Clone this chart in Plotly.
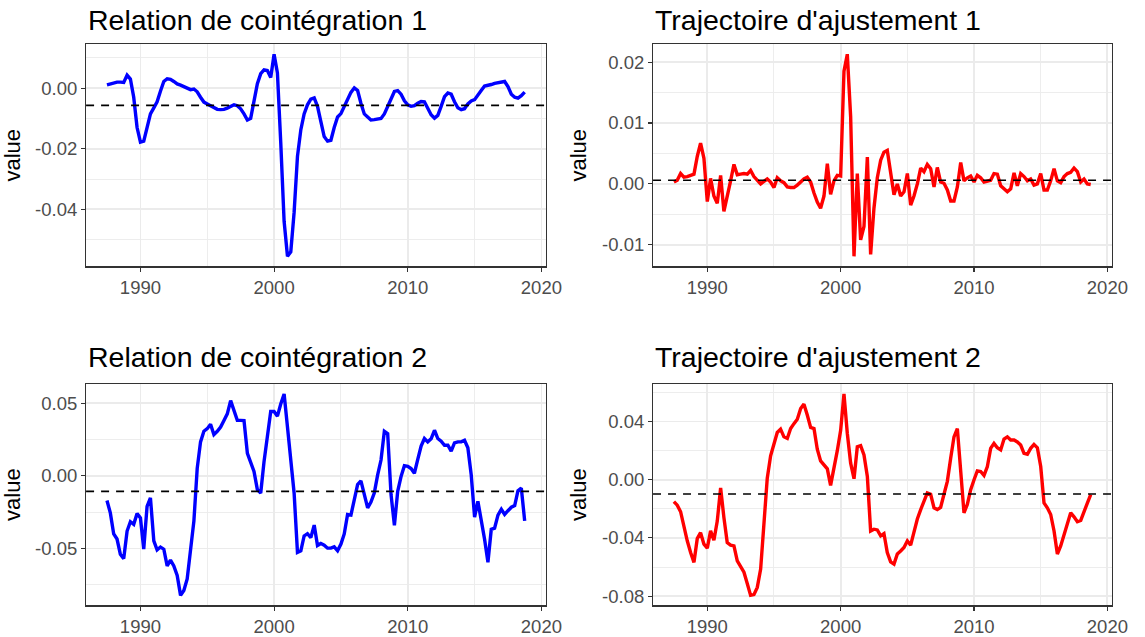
import pandas as pd
import plotly.graph_objects as go

# Quarterly dates 1987Q3 .. 2018Q4
dates = pd.date_range("1987-07-01", periods=126, freq="QS")

titles = ["Relation de cointégration 1", "Trajectoire d'ajustement 1",
          "Relation de cointégration 2", "Trajectoire d'ajustement 2"]

coint1 = [0.0011, 0.0015, 0.0019, 0.0020, 0.0020, 0.0019, 0.0043, 0.0030, -0.0030, -0.0130,
          -0.0178, -0.0175, -0.0130, -0.0085, -0.0065, -0.0045, -0.0010, 0.0022, 0.0031, 0.0029,
          0.0022, 0.0014, 0.0010, 0.0006, 0.0001, -0.0005, -0.0003, -0.0012, -0.0030, -0.0046,
          -0.0052, -0.0058, -0.0065, -0.0070, -0.0071, -0.0070, -0.0066, -0.0060, -0.0055, -0.0058,
          -0.0068, -0.0085, -0.0105, -0.0100, -0.0040, 0.0015, 0.0048, 0.0060, 0.0058, 0.0035,
          0.0112, 0.0050, -0.0180, -0.0440, -0.0555, -0.0540, -0.0410, -0.0225, -0.0137, -0.0085,
          -0.0055, -0.0036, -0.0032, -0.0060, -0.0110, -0.0160, -0.0175, -0.0172, -0.0130, -0.0095,
          -0.0084, -0.0062, -0.0038, -0.0014, 0.0001, -0.0008, -0.0050, -0.0085, -0.0095, -0.0105,
          -0.0104, -0.0102, -0.0100, -0.0085, -0.0060, -0.0030, -0.0011, -0.0008, -0.0020, -0.0042,
          -0.0055, -0.0060, -0.0058, -0.0050, -0.0044, -0.0045, -0.0065, -0.0088, -0.0099, -0.0090,
          -0.0060, -0.0028, -0.0016, -0.0020, -0.0045, -0.0065, -0.0071, -0.0068, -0.0052, -0.0042,
          -0.0038, -0.0025, -0.0008, 0.0007, 0.0009, 0.0012, 0.0016, 0.0018, 0.0022, 0.0022,
          0.0005, -0.0020, -0.0030, -0.0033, -0.0025, -0.0013]

adjust1 = [0.0003, 0.0006, 0.0017, 0.0011, 0.0012, 0.0014, 0.0016, 0.0045, 0.0067, 0.0042,
           -0.0029, 0.0009, -0.0020, -0.0032, 0.0014, -0.0045, -0.0022, 0.0005, 0.0032, 0.0015,
           0.0016, 0.0017, 0.0016, 0.0022, 0.0012, 0.0005, 0.0000, 0.0004, 0.0008, 0.0003,
           -0.0006, 0.0010, 0.0005, 0.0002, -0.0005, -0.0006, -0.0006, -0.0002, 0.0003, 0.0008,
           0.0011, 0.0003, -0.0015, -0.0030, -0.0040, -0.0020, 0.0033, -0.0017, 0.0005, 0.0014,
           0.0013, 0.0185, 0.0213, 0.0110, -0.0119, 0.0017, -0.0092, -0.0070, 0.0044, -0.0116,
           -0.0040, 0.0010, 0.0039, 0.0052, 0.0055, 0.0022, -0.0018, 0.0000, -0.0020, -0.0013,
           0.0017, -0.0035, -0.0020, 0.0000, 0.0026, 0.0020, 0.0032, 0.0025, -0.0005, 0.0027,
           0.0003, 0.0001, -0.0010, -0.0028, -0.0028, -0.0005, 0.0035, 0.0005, 0.0010, 0.0013,
           0.0003, 0.0014, 0.0010, 0.0003, 0.0005, 0.0006, 0.0017, 0.0016, -0.0003, -0.0008,
           -0.0013, -0.0008, 0.0018, -0.0003, 0.0017, 0.0012, 0.0005, 0.0008, -0.0002, 0.0000,
           0.0017, -0.0010, -0.0010, 0.0005, 0.0025, 0.0005, 0.0002, 0.0012, 0.0017, 0.0019,
           0.0026, 0.0020, 0.0003, 0.0008, 0.0000, -0.0001]

coint2 = [-0.0170, -0.0255, -0.0400, -0.0435, -0.0540, -0.0570, -0.0380, -0.0316, -0.0334, -0.0260,
          -0.0290, -0.0505, -0.0210, -0.0152, -0.0448, -0.0510, -0.0490, -0.0505, -0.0620, -0.0580,
          -0.0620, -0.0686, -0.0823, -0.0790, -0.0710, -0.0530, -0.0310, 0.0052, 0.0234, 0.0307,
          0.0325, 0.0355, 0.0284, 0.0307, 0.0336, 0.0382, 0.0427, 0.0518, 0.0450, 0.0382,
          0.0382, 0.0380, 0.0155, 0.0086, 0.0030, -0.0095, -0.0118, 0.0098, 0.0280, 0.0443,
          0.0443, 0.0411, 0.0495, 0.0564, 0.0336, 0.0132, -0.0118, -0.0527, -0.0516, -0.0414,
          -0.0398, -0.0425, -0.0339, -0.0480, -0.0466, -0.0477, -0.0498, -0.0498, -0.0489, -0.0516,
          -0.0470, -0.0400, -0.0266, -0.0270, -0.0175, -0.0060, -0.0034, -0.0130, -0.0220, -0.0180,
          -0.0118, 0.0007, 0.0109, 0.0307, 0.0290, -0.0130, -0.0340, -0.0107, -0.0005, 0.0070,
          0.0066, 0.0050, 0.0018, 0.0114, 0.0205, 0.0257, 0.0234, 0.0255, 0.0314, 0.0257,
          0.0239, 0.0211, 0.0211, 0.0170, 0.0227, 0.0234, 0.0234, 0.0245, 0.0193, 0.0007,
          -0.0284, -0.0175, -0.0290, -0.0436, -0.0595, -0.0368, -0.0360, -0.0270, -0.0230, -0.0266,
          -0.0240, -0.0216, -0.0205, -0.0102, -0.0084, -0.0310]

adjust2 = [-0.0150, -0.0175, -0.0220, -0.0330, -0.0420, -0.0500, -0.0568, -0.0405, -0.0364, -0.0443,
           -0.0470, -0.0352, -0.0416, -0.0284, -0.0057, -0.0260, -0.0432, -0.0450, -0.0455, -0.0557,
           -0.0598, -0.0636, -0.0715, -0.0795, -0.0790, -0.0740, -0.0614, -0.0330, 0.0011, 0.0165,
           0.0250, 0.0325, 0.0348, 0.0295, 0.0284, 0.0352, 0.0386, 0.0416, 0.0490, 0.0520,
           0.0445, 0.0360, 0.0352, 0.0210, 0.0130, 0.0100, 0.0075, -0.0039, 0.0070, 0.0200,
           0.0340, 0.0590, 0.0320, 0.0114, 0.0007, 0.0227, 0.0234, 0.0170, 0.0023, -0.0352,
           -0.0340, -0.0345, -0.0386, -0.0370, -0.0500, -0.0565, -0.0580, -0.0510, -0.0490, -0.0466,
           -0.0420, -0.0450, -0.0360, -0.0270, -0.0205, -0.0148, -0.0091, -0.0100, -0.0193, -0.0205,
           -0.0190, -0.0100, -0.0011, 0.0148, 0.0295, 0.0352, 0.0057, -0.0227, -0.0170, -0.0068,
           0.0000, 0.0061, 0.0057, 0.0030, 0.0091, 0.0216, 0.0250, 0.0220, 0.0205, 0.0280,
           0.0295, 0.0273, 0.0273, 0.0260, 0.0239, 0.0182, 0.0175, 0.0216, 0.0243, 0.0220,
           0.0091, -0.0159, -0.0193, -0.0239, -0.0352, -0.0511, -0.0455, -0.0380, -0.0300, -0.0227,
           -0.0255, -0.0289, -0.0280, -0.0215, -0.0160, -0.0102]

ref_levels = [-0.0057, 0.0006, -0.0107, -0.0098]

y_tickvals = [[0.0, -0.02, -0.04], [0.02, 0.01, 0.0, -0.01],
              [0.05, 0.0, -0.05], [0.04, 0.0, -0.04, -0.08]]
y_ticktext = [["0.00", "-0.02", "-0.04"], ["0.02", "0.01", "0.00", "-0.01"],
              ["0.05", "0.00", "-0.05"], ["0.04", "0.00", "-0.04", "-0.08"]]
y_minor = [[0.01, -0.01, -0.03, -0.05], [0.015, 0.005, -0.005],
           [0.025, -0.025, -0.075], [0.06, 0.02, -0.02, -0.06]]
x_tickvals = ["1990-01-01", "2000-01-01", "2010-01-01", "2020-01-01"]
x_ticktext = ["1990", "2000", "2010", "2020"]
x_minor = ["1995-01-01", "2005-01-01", "2015-01-01"]

series = [coint1, adjust1, coint2, adjust2]
colors = ["#0000FF", "#FF0000", "#0000FF", "#FF0000"]

W, H = 1145, 637


def px_x(p):
    return p / W


def px_y(p):
    return 1 - p / H


x_domains = [[px_x(87.3), px_x(553.3)], [px_x(662.3), px_x(1127.3)]]
y_domains = [[px_y(267.7), px_y(44.3)], [px_y(608.3), px_y(385.7)]]
title_y_px = [20, 359]

FONT = "Liberation Sans, Arial, sans-serif"
GRID = "#EBEBEB"
FRAME = "#333333"

span = dates[-1] - dates[0]
x_range = [dates[0] - 0.05 * span, dates[-1] + 0.05 * span]

fig = go.Figure()
layout = {}
annotations = []
shapes = []
for i, vals in enumerate(series):
    r, c = divmod(i, 2)
    k = i + 1
    xa = "x" if k == 1 else f"x{k}"
    ya = "y" if k == 1 else f"y{k}"
    fig.add_trace(go.Scatter(x=dates, y=vals, mode="lines",
                             line=dict(color=colors[i], width=3.4),
                             xaxis=xa, yaxis=ya, showlegend=False,
                             hoverinfo="skip"))
    lo, hi = min(vals), max(vals)
    pad = 0.05 * (hi - lo)
    common = dict(showline=True, mirror=True, linecolor=FRAME, linewidth=1.1,
                  ticks="outside", tickcolor=FRAME, ticklen=4, tickwidth=1.1,
                  showgrid=True, gridcolor=GRID, gridwidth=1.8, zeroline=False,
                  tickfont=dict(family=FONT, size=18.5, color="#4D4D4D"))
    layout["xaxis" if k == 1 else f"xaxis{k}"] = dict(
        common, domain=x_domains[c], anchor=ya, type="date", range=x_range,
        tickmode="array", tickvals=x_tickvals, ticktext=x_ticktext,
        minor=dict(tickvals=x_minor, showgrid=True, gridcolor=GRID, gridwidth=0.9, ticklen=0))
    layout["yaxis" if k == 1 else f"yaxis{k}"] = dict(
        common, domain=y_domains[r], anchor=xa, range=[lo - pad, hi + pad],
        tickmode="array", tickvals=y_tickvals[i], ticktext=y_ticktext[i],
        minor=dict(tickvals=y_minor[i], showgrid=True, gridcolor=GRID, gridwidth=0.9, ticklen=0),
        title=dict(text="value", font=dict(family=FONT, size=22, color="black"), standoff=9))
    shapes.append(dict(type="line", xref=f"{xa} domain", yref=ya, x0=0, x1=1,
                       y0=ref_levels[i], y1=ref_levels[i],
                       line=dict(color="black", width=1.6, dash="8px,7px")))
    annotations.append(dict(text=titles[i], xref="paper", yref="paper",
                            x=x_domains[c][0], y=px_y(title_y_px[r]),
                            xanchor="left", yanchor="middle", showarrow=False,
                            font=dict(family=FONT, size=28.5, color="black")))

fig.update_layout(**layout)
fig.update_layout(width=W, height=H, margin=dict(l=0, r=0, t=0, b=0),
                  paper_bgcolor="white", plot_bgcolor="white",
                  shapes=shapes, annotations=annotations, showlegend=False)
fig.write_html("out.html",
               config={"displayModeBar": False, "staticPlot": True},
               post_script="document.body.style.margin='0px';"
                           "document.documentElement.style.overflow='hidden';")
